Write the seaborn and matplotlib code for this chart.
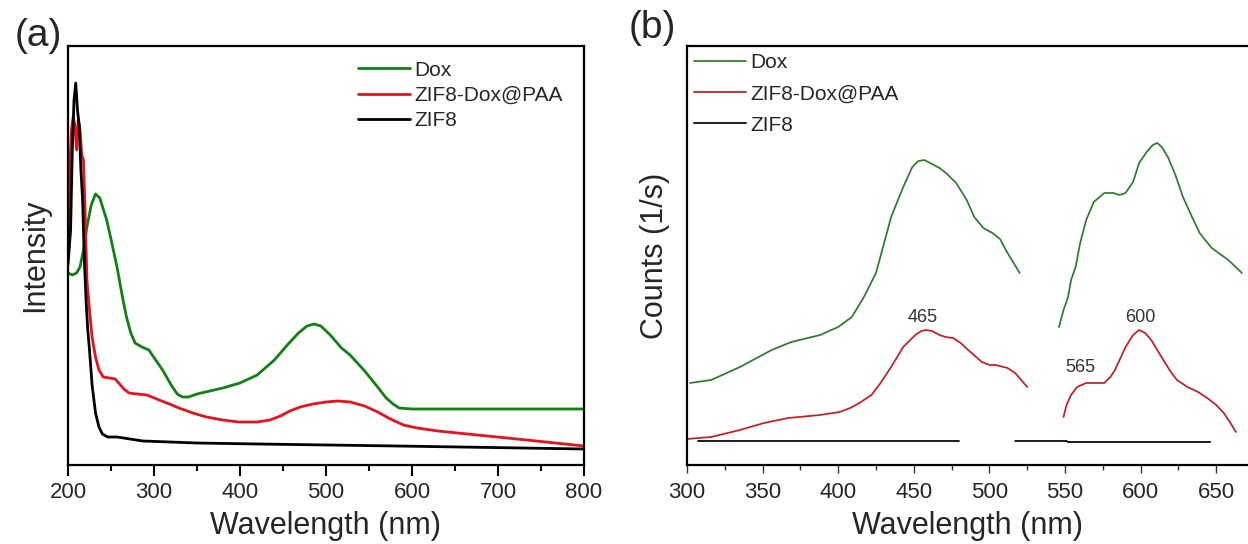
import numpy as np
import pandas as pd
import matplotlib
matplotlib.use("Agg")
import matplotlib.pyplot as plt
from matplotlib.ticker import MultipleLocator
import seaborn as sns

# ---------------- data: panel (a) UV-vis ----------------
samples = ["Dox", "ZIF8-Dox@PAA", "ZIF8"]

a_dox_x = [200, 205, 210, 214, 218, 222, 227, 232, 237, 241, 245, 251, 257, 264, 268, 273,
           278, 286, 294, 302, 310, 320, 327, 333, 340, 350, 380, 400, 420, 440, 455, 468,
           478, 486, 494, 505, 518, 528, 545, 560, 570, 578, 585, 600, 800]
a_dox_y = [192, 190, 192, 198, 215, 238, 260, 271, 267, 256, 245, 222, 198, 165, 148, 132,
           122, 118, 115, 105, 95, 80, 71, 68, 68, 71, 77, 82, 90, 105, 120, 132,
           139, 141, 139, 130, 117, 110, 94, 78, 67, 61, 57, 56, 56]

a_paa_x = [200, 202, 204, 206, 208, 210, 212, 214, 216, 218, 220, 222, 225, 228, 232, 236,
           241, 248, 255, 259, 265, 271, 280, 292, 306, 318, 329, 345, 361, 380, 398, 420,
           435, 447, 458, 470, 485, 500, 514, 528, 545, 560, 575, 590, 606, 630, 676, 722, 800]
a_paa_y = [207, 295, 335, 348, 340, 315, 345, 335, 310, 305, 250, 185, 155, 128, 108, 95,
           88, 87, 86, 82, 76, 72, 71, 70, 65, 61, 57, 52, 48, 45, 43, 43,
           45, 49, 54, 58, 61, 63, 64, 63, 59, 53, 46, 40, 37, 34, 30, 26, 19]

a_zif_x = [200, 203, 205, 207, 209, 211, 213, 215, 217, 219, 221, 223, 225, 228, 232, 236,
           240, 246, 257, 287, 350, 421, 583, 800]
a_zif_y = [200, 235, 315, 365, 382, 355, 340, 295, 265, 205, 165, 135, 115, 80, 52, 38,
           31, 28, 28, 24, 22, 21, 19, 16]

# ---------------- data: panel (b) fluorescence ----------------
b_dox1_x = [302, 316, 335, 356, 369, 380, 388, 400, 409, 417, 425, 430, 435, 443, 449, 453,
            457, 462, 467, 472, 478, 485, 490, 496, 502, 507, 512, 516, 520]
b_dox1_y = [82, 85, 98, 115, 123, 127, 130, 138, 148, 168, 192, 220, 248, 278, 298, 304,
            305, 301, 297, 291, 282, 265, 248, 237, 232, 226, 212, 202, 192]
b_dox2_x = [546, 549, 552, 554, 557, 560, 564, 569, 576, 582, 586, 590, 595, 599, 604, 608,
            611, 614, 618, 623, 628, 634, 639, 647, 658, 667]
b_dox2_y = [138, 155, 168, 185, 198, 222, 245, 263, 272, 272, 270, 272, 283, 302, 313, 320,
            322, 318, 308, 290, 268, 248, 232, 217, 205, 192]

b_paa1_x = [300, 316, 335, 351, 367, 388, 401, 408, 414, 422, 428, 435, 443, 451, 455, 458,
            462, 467, 471, 476, 481, 486, 495, 500, 504, 512, 517, 521, 525]
b_paa1_y = [26, 28, 35, 42, 47, 50, 53, 57, 62, 70, 82, 98, 118, 130, 134, 135,
            134, 130, 128, 127, 122, 115, 103, 100, 100, 97, 92, 85, 78]
b_paa2_x = [549, 551, 554, 558, 564, 570, 576, 580, 583, 587, 590, 595, 599, 603, 607, 611,
            615, 620, 624, 631, 638, 644, 650, 655, 659, 663]
b_paa2_y = [48, 60, 70, 78, 82, 82, 82, 88, 95, 108, 118, 130, 135, 132, 125, 115,
            105, 93, 85, 78, 73, 67, 60, 52, 43, 33]

b_zif1_x = [307, 480]
b_zif1_y = [24, 24]
b_zif2_x = [517, 551, 552, 646]
b_zif2_y = [24, 24, 23, 23]

peak_labels = ["465", "600", "565"]
peak_x = [456, 600, 560]
peak_y = [148, 148, 97]

# ---------------- frames ----------------
def frame(parts):
    rows = []
    for name, seg, xs, ys in parts:
        for x, y in zip(xs, ys):
            rows.append((name, seg, x, y))
    return pd.DataFrame(rows, columns=["sample", "seg", "wl", "val"])

df_a = frame([("Dox", 0, a_dox_x, a_dox_y),
              ("ZIF8-Dox@PAA", 1, a_paa_x, a_paa_y),
              ("ZIF8", 2, a_zif_x, a_zif_y)])
df_b = frame([("Dox", 0, b_dox1_x, b_dox1_y), ("Dox", 1, b_dox2_x, b_dox2_y),
              ("ZIF8-Dox@PAA", 2, b_paa1_x, b_paa1_y), ("ZIF8-Dox@PAA", 3, b_paa2_x, b_paa2_y),
              ("ZIF8", 4, b_zif1_x, b_zif1_y), ("ZIF8", 5, b_zif2_x, b_zif2_y)])

sns.set_theme(style="white")
plt.rcParams["font.family"] = ["Liberation Sans", "DejaVu Sans"]

W, H = 1248, 544
fig = plt.figure(figsize=(W / 100, H / 100), dpi=100)

def px_axes(l, t, r, b):
    return fig.add_axes([l / W, 1 - b / H, (r - l) / W, (b - t) / H])

ax1 = px_axes(68, 46, 584, 465)
ax2 = px_axes(687, 46, 1248, 465)

pal_a = {"Dox": "#128012", "ZIF8-Dox@PAA": "#e8121a", "ZIF8": "#000000"}
pal_b = {"Dox": "#2b7d2b", "ZIF8-Dox@PAA": "#cc1a22", "ZIF8": "#000000"}

sns.lineplot(data=df_a, x="wl", y="val", hue="sample", hue_order=samples, palette=pal_a,
             units="seg", estimator=None, sort=False, linewidth=2.0, ax=ax1)
sns.lineplot(data=df_b, x="wl", y="val", hue="sample", hue_order=samples, palette=pal_b,
             units="seg", estimator=None, sort=False, linewidth=1.25, ax=ax2)

# panel a styling
ax1.set_xlim(200, 800)
ax1.set_ylim(0, 419)
ax1.set_yticks([])
ax1.xaxis.set_major_locator(MultipleLocator(100))
ax1.xaxis.set_minor_locator(MultipleLocator(50))
ax1.tick_params(axis="x", which="major", direction="out", length=8, width=1.5,
                labelsize=16, pad=4, bottom=True, color="black")
ax1.tick_params(axis="x", which="minor", direction="out", length=4.5, width=1.5,
                bottom=True, color="black")
for s in ax1.spines.values():
    s.set_color("black")
    s.set_linewidth(1.6)
ax1.set_xlabel("Wavelength (nm)", fontsize=22, labelpad=6)
ax1.set_ylabel("Intensity", fontsize=22, labelpad=13)
sns.move_legend(ax1, "upper left", bbox_to_anchor=(0.525, 1.01), frameon=False, title=None,
                fontsize=15, handlelength=2.5, handletextpad=0.2, labelspacing=0.3)

# panel b styling
ax2.set_xlim(300, 671)
ax2.set_ylim(0, 419)
ax2.set_yticks([])
ax2.xaxis.set_major_locator(MultipleLocator(50))
ax2.xaxis.set_minor_locator(MultipleLocator(25))
ax2.tick_params(axis="x", which="major", direction="out", length=6, width=1.0,
                labelsize=16, pad=6, bottom=True, color="#333333")
ax2.tick_params(axis="x", which="minor", direction="out", length=3.5, width=1.0,
                bottom=True, color="#333333")
for s in ax2.spines.values():
    s.set_color("black")
    s.set_linewidth(1.6)
ax2.spines["right"].set_visible(False)
ax2.set_xlabel("Wavelength (nm)", fontsize=22, labelpad=6)
ax2.set_ylabel("Counts (1/s)", fontsize=22, labelpad=12)
sns.move_legend(ax2, "upper left", bbox_to_anchor=(-0.01, 1.012), frameon=False, title=None,
                fontsize=15, handlelength=2.5, handletextpad=0.2, labelspacing=0.58,
                borderaxespad=0.2)

for lab, x, y in zip(peak_labels, peak_x, peak_y):
    ax2.text(x, y, lab, fontsize=13, color="#333333", ha="center", va="center")

fig.text(38 / W, 1 - 36 / H, "(a)", fontsize=28, ha="center", va="center")
fig.text(652 / W, 1 - 28 / H, "(b)", fontsize=28, ha="center", va="center")

fig.savefig("out.png", dpi=100)
